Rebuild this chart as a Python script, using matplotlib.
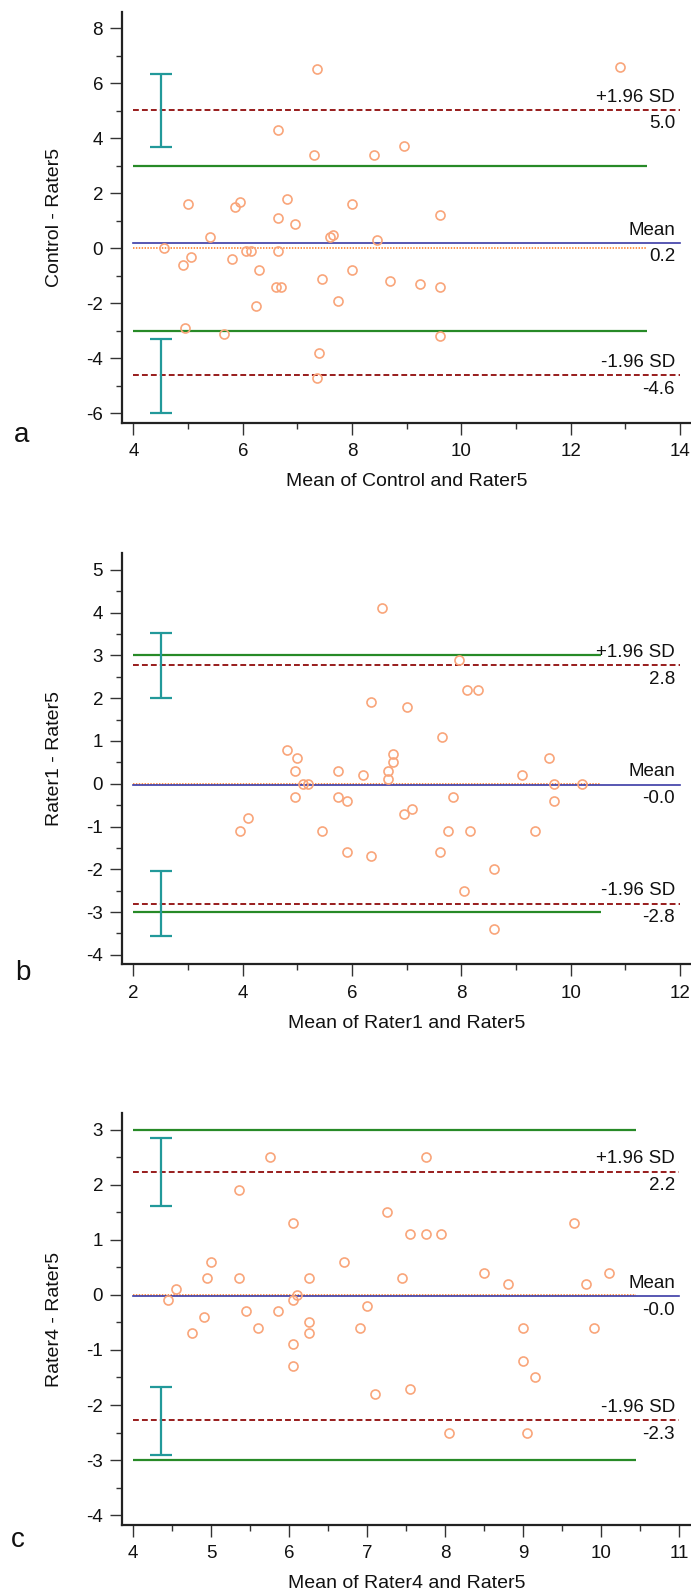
#Bland-Altman plots, three rater comparisons
import matplotlib.pyplot as plt
from matplotlib.ticker import MultipleLocator

plt.rcParams['font.family'] = ['Liberation Sans', 'DejaVu Sans']
plt.rcParams['axes.unicode_minus'] = False

# panel a: Control vs Rater5
a_avg = [7.35, 12.9, 6.65, 7.3, 8.4, 8.95, 5.0, 5.85, 5.95, 6.8, 8.0, 6.65, 6.95, 9.6,
         5.4, 7.6, 7.65, 8.45, 4.55, 4.9, 5.05, 5.8, 6.05, 6.15, 6.65, 6.3, 6.6, 6.7,
         7.45, 6.25, 7.75, 8.0, 4.95, 5.65, 7.4, 7.35, 8.7, 9.25, 9.6, 9.6]
a_diff = [6.5, 6.6, 4.3, 3.4, 3.4, 3.7, 1.6, 1.5, 1.7, 1.8, 1.6, 1.1, 0.9, 1.2,
          0.4, 0.4, 0.5, 0.3, 0.0, -0.6, -0.3, -0.4, -0.1, -0.1, -0.1, -0.8, -1.4, -1.4,
          -1.1, -2.1, -1.9, -0.8, -2.9, -3.1, -3.8, -4.7, -1.2, -1.3, -1.4, -3.2]
a_bias, a_upper, a_lower = 0.2, 5.03, -4.62
a_ci_upper = [3.68, 6.35]
a_ci_lower = [-5.98, -3.29]

# panel b: Rater1 vs Rater5
b_avg = [4.8, 5.0, 4.95, 5.75, 5.1, 5.2, 6.55, 7.95, 8.1, 8.3, 6.35, 7.0, 7.65, 6.75,
         6.75, 9.6, 6.2, 6.65, 6.65, 9.1, 9.7, 10.2, 4.95, 5.75, 5.9, 3.95, 4.1, 5.45,
         5.9, 7.85, 6.95, 7.1, 7.75, 8.15, 9.35, 9.7, 6.35, 7.6, 8.6, 8.05, 8.6]
b_diff = [0.8, 0.6, 0.3, 0.3, 0.0, 0.0, 4.1, 2.9, 2.2, 2.2, 1.9, 1.8, 1.1, 0.7,
          0.5, 0.6, 0.2, 0.3, 0.1, 0.2, 0.0, 0.0, -0.3, -0.3, -0.4, -1.1, -0.8, -1.1,
          -1.6, -0.3, -0.7, -0.6, -1.1, -1.1, -1.1, -0.4, -1.7, -1.6, -2.0, -2.5, -3.4]
b_bias, b_upper, b_lower = -0.02, 2.77, -2.80
b_ci_upper = [2.01, 3.53]
b_ci_lower = [-3.56, -2.04]

# panel c: Rater4 vs Rater5
c_avg = [5.75, 7.75, 5.35, 6.05, 9.65, 7.25, 7.55, 7.75, 7.95, 5.0, 6.7, 4.95, 5.35, 6.25,
         7.45, 8.5, 10.1, 8.8, 9.8, 4.55, 4.45, 6.1, 6.05, 4.9, 5.45, 5.85, 6.25, 7.0,
         4.75, 5.6, 6.25, 6.9, 9.0, 9.9, 6.05, 6.05, 9.0, 9.15, 7.1, 7.55, 8.05, 9.05]
c_diff = [2.5, 2.5, 1.9, 1.3, 1.3, 1.5, 1.1, 1.1, 1.1, 0.6, 0.6, 0.3, 0.3, 0.3,
          0.3, 0.4, 0.4, 0.2, 0.2, 0.1, -0.1, 0.0, -0.1, -0.4, -0.3, -0.3, -0.5, -0.2,
          -0.7, -0.6, -0.7, -0.6, -0.6, -0.6, -0.9, -1.3, -1.2, -1.5, -1.8, -1.7, -2.5, -2.5]
c_bias, c_upper, c_lower = -0.02, 2.24, -2.28
c_ci_upper = [1.62, 2.85]
c_ci_lower = [-2.91, -1.67]

ref_limit = 3.0

panels = [
    dict(letter='a', ylabel='Control - Rater5', xlabel='Mean of Control and Rater5',
         avg=a_avg, diff=a_diff, bias=a_bias, upper=a_upper, lower=a_lower,
         ci_up=a_ci_upper, ci_lo=a_ci_lower, ci_x=4.5, span=(4, 14, 13.4),
         xlim=(3.79, 14.2), ylim=(-6.34, 8.6), xt=(2, 1), yt=(2, 1),
         top=11.7, bottom=422.7, letter_xy=(21.7, 441.7)),
    dict(letter='b', ylabel='Rater1 - Rater5', xlabel='Mean of Rater1 and Rater5',
         avg=b_avg, diff=b_diff, bias=b_bias, upper=b_upper, lower=b_lower,
         ci_up=b_ci_upper, ci_lo=b_ci_lower, ci_x=2.5, span=(2, 12, 10.55),
         xlim=(1.79, 12.2), ylim=(-4.22, 5.4), xt=(2, 1), yt=(1, 0.5),
         top=552.7, bottom=964.3, letter_xy=(22.5, 980)),
    dict(letter='c', ylabel='Rater4 - Rater5', xlabel='Mean of Rater4 and Rater5',
         avg=c_avg, diff=c_diff, bias=c_bias, upper=c_upper, lower=c_lower,
         ci_up=c_ci_upper, ci_lo=c_ci_lower, ci_x=4.355, span=(4, 11, 10.45),
         xlim=(3.855, 11.15), ylim=(-4.18, 3.3), xt=(1, 0.5), yt=(1, 0.5),
         top=1113.3, bottom=1525.0, letter_xy=(18, 1547)),
]

W, H = 691.0, 1591.0
fig = plt.figure(figsize=(W/100, H/100), dpi=100)

red = '#981c1c'
green = '#278a27'
blue = '#3b3ba6'
orange = '#ff8a3c'
teal = '#22999a'
marker_col = '#f9a57a'
txt = '#111111'
left, right = 122.0, 691.0

for p in panels:
    ax = fig.add_axes([left/W, 1 - p['bottom']/H, (right-left)/W, (p['bottom']-p['top'])/H])
    x0, x1, xs = p['span']

    ax.plot([x0, xs], [ref_limit, ref_limit], color=green, lw=1.6, solid_capstyle='butt')
    ax.plot([x0, xs], [-ref_limit, -ref_limit], color=green, lw=1.6, solid_capstyle='butt')
    ax.plot([x0, x1], [p['upper'], p['upper']], color=red, lw=1.4, dashes=(3, 1.6))
    ax.plot([x0, x1], [p['lower'], p['lower']], color=red, lw=1.4, dashes=(3, 1.6))
    ax.plot([x0, xs], [0, 0], color=orange, lw=1.3, dashes=(0.8, 0.8))
    ax.plot([x0, x1], [p['bias'], p['bias']], color=blue, lw=1.2)

    # confidence intervals of the limits of agreement
    for lo, hi in (p['ci_up'], p['ci_lo']):
        ax.errorbar([p['ci_x']], [(lo+hi)/2.0], yerr=[(hi-lo)/2.0], fmt='none',
                    ecolor=teal, elinewidth=1.6, capsize=7.8, capthick=1.6)

    ax.plot(p['avg'], p['diff'], 'o', ms=6.5, mfc='none', mec=marker_col, mew=1.2)

    tr = ax.get_yaxis_transform()
    for name, val in (('+1.96 SD', p['upper']), ('Mean', p['bias']), ('-1.96 SD', p['lower'])):
        ax.annotate(name, xy=(0.972, val), xycoords=tr, xytext=(0, 3), textcoords='offset points',
                    ha='right', va='bottom', fontsize=13.5, color=txt)
        ax.annotate('%.1f' % val, xy=(0.972, val), xycoords=tr, xytext=(0, -4), textcoords='offset points',
                    ha='right', va='top', fontsize=13.5, color=txt)

    ax.set_xlim(p['xlim'])
    ax.set_ylim(p['ylim'])
    ax.xaxis.set_major_locator(MultipleLocator(p['xt'][0]))
    ax.xaxis.set_minor_locator(MultipleLocator(p['xt'][1]))
    ax.yaxis.set_major_locator(MultipleLocator(p['yt'][0]))
    ax.yaxis.set_minor_locator(MultipleLocator(p['yt'][1]))
    for s in ('top', 'right'):
        ax.spines[s].set_visible(False)
    for s in ('left', 'bottom'):
        ax.spines[s].set_linewidth(1.6)
        ax.spines[s].set_color('#222222')
    ax.tick_params(which='major', length=8.6, width=1.0, color='#333333', labelsize=13.5,
                   labelcolor=txt)
    ax.tick_params(which='minor', length=4.6, width=1.0, color='#333333')
    ax.tick_params(axis='x', which='major', pad=6)
    ax.tick_params(axis='y', which='major', pad=5)

    ax.set_ylabel(p['ylabel'], fontsize=14, color=txt)
    ax.set_xlabel(p['xlabel'], fontsize=14, color=txt, va='top')
    ax.yaxis.set_label_coords(-0.1037, 0.5)
    ax.xaxis.set_label_coords(0.5, -0.122)

    fig.text(p['letter_xy'][0]/W, 1 - p['letter_xy'][1]/H, p['letter'], fontsize=20,
             ha='center', va='baseline', color=txt)

fig.savefig('out.png', dpi=100)
